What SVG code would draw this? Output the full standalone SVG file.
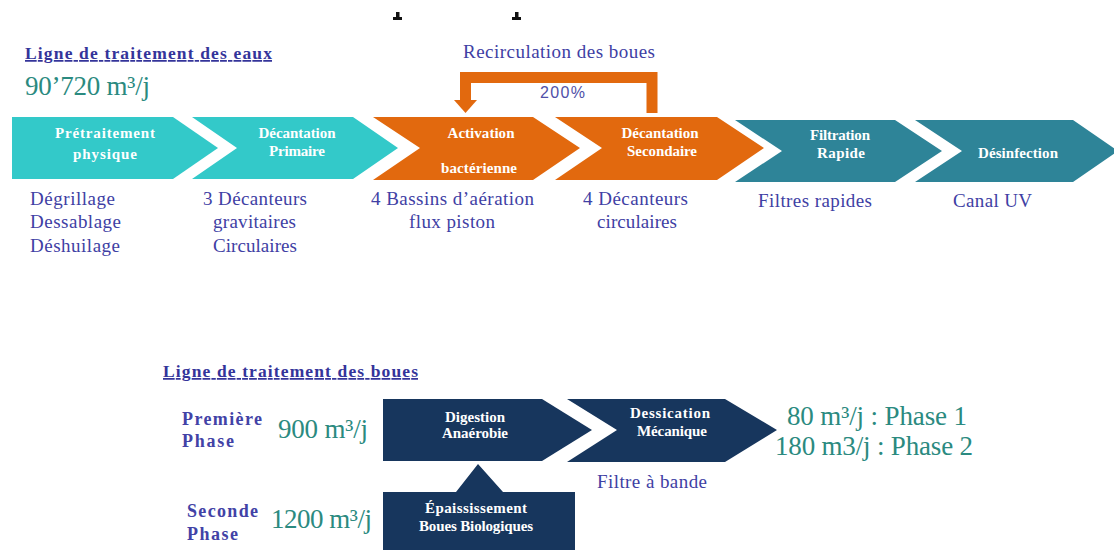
<svg xmlns="http://www.w3.org/2000/svg" width="1114" height="550" viewBox="0 0 1114 550">
  <style>
    .title { font-family: "Liberation Serif", serif; font-weight: bold; font-size: 17.5px; fill: #34349a; text-decoration: underline; }
    .flow { font-family: "Liberation Serif", serif; font-size: 27px; fill: #2b8a80; }
    .desc { font-family: "Liberation Serif", serif; font-size: 19px; fill: #4040a4; }
    .phase { font-family: "Liberation Serif", serif; font-weight: bold; font-size: 18px; fill: #4242a6; }
    .step { font-family: "Liberation Serif", serif; font-weight: bold; font-size: 15px; fill: #ffffff; text-anchor: middle; }
    .cyan { fill: #33c9c9; }
    .orange { fill: #e2690e; }
    .teal { fill: #2e8498; }
    .navy { fill: #17365d; }
  </style>

  <rect width="1114" height="550" fill="#ffffff"/>

  <!-- clipped letter remnants along the top edge -->
  <g fill="#111111">
    <rect x="396" y="12" width="3.5" height="6"/>
    <rect x="393" y="17" width="9" height="3"/>
    <rect x="515" y="12" width="3.5" height="6"/>
    <rect x="512" y="17" width="9" height="3"/>
  </g>

  <!-- water line header -->
  <text class="title" x="25" y="59" textLength="247" lengthAdjust="spacing">Ligne de traitement des eaux</text>
  <text class="flow" x="25" y="95" textLength="125" lengthAdjust="spacing">90’720 m³/j</text>

  <!-- sludge recirculation loop -->
  <g id="connectors">
    <path d="M652,113 V77.5 H465.5 V101" fill="none" stroke="#e2690e" stroke-width="11" stroke-linejoin="miter"/>
    <polygon points="454,100 477,100 465.5,113" fill="#e2690e"/>
  </g>
  <text class="desc" x="463" y="58" font-size="19" textLength="192" lengthAdjust="spacing" fill="#5050a8">Recirculation des boues</text>
  <text x="540" y="98" font-family="Liberation Sans, sans-serif" font-size="16" fill="#5050a8" textLength="45" lengthAdjust="spacing">200%</text>

  <!-- water treatment steps -->
  <g id="pretraitement">
    <path class="cyan" d="M12,117 H173 L218,148 L173,179 H12 Z"/>
    <text class="step" x="105" y="138" textLength="100" lengthAdjust="spacing">Prétraitement</text>
    <text class="step" x="105" y="159" textLength="64" lengthAdjust="spacing">physique</text>
    <text class="desc" x="30" y="205" textLength="85" lengthAdjust="spacing">Dégrillage</text>
    <text class="desc" x="30" y="228" textLength="91" lengthAdjust="spacing">Dessablage</text>
    <text class="desc" x="30" y="252" textLength="90" lengthAdjust="spacing">Déshuilage</text>
  </g>

  <g id="decantation-primaire">
    <path class="cyan" d="M192,117 H353 L398,148 L353,179 H192 L237,148 Z"/>
    <text class="step" x="297" y="138" textLength="77" lengthAdjust="spacing">Décantation</text>
    <text class="step" x="297" y="156" textLength="56" lengthAdjust="spacing">Primaire</text>
    <text class="desc" x="203" y="205" textLength="104" lengthAdjust="spacing">3 Décanteurs</text>
    <text class="desc" x="213" y="228" textLength="83" lengthAdjust="spacing">gravitaires</text>
    <text class="desc" x="213" y="252" textLength="84" lengthAdjust="spacing">Circulaires</text>
  </g>

  <g id="activation">
    <path class="orange" d="M373,117 H533 L580,148 L533,180 H373 L420,148 Z"/>
    <text class="step" x="481" y="138" textLength="67" lengthAdjust="spacing">Activation</text>
    <text class="step" x="479" y="173" textLength="76" lengthAdjust="spacing">bactérienne</text>
    <text class="desc" x="371" y="205" textLength="163" lengthAdjust="spacing">4 Bassins d’aération</text>
    <text class="desc" x="409" y="228" textLength="86" lengthAdjust="spacing">flux piston</text>
  </g>

  <g id="decantation-secondaire">
    <path class="orange" d="M555,117 H717 L764,148 L717,180 H555 L602,148 Z"/>
    <text class="step" x="660" y="138" textLength="77" lengthAdjust="spacing">Décantation</text>
    <text class="step" x="662" y="156" textLength="70" lengthAdjust="spacing">Secondaire</text>
    <text class="desc" x="583" y="205" textLength="105" lengthAdjust="spacing">4 Décanteurs</text>
    <text class="desc" x="597" y="228" textLength="80" lengthAdjust="spacing">circulaires</text>
  </g>

  <g id="filtration">
    <path class="teal" d="M735,120 H895 L942,151 L895,182 H735 L782,151 Z"/>
    <text class="step" x="840" y="140" textLength="60" lengthAdjust="spacing">Filtration</text>
    <text class="step" x="841" y="158" textLength="48" lengthAdjust="spacing">Rapide</text>
    <text class="desc" x="758" y="207" textLength="114" lengthAdjust="spacing">Filtres rapides</text>
  </g>

  <g id="desinfection">
    <path class="teal" d="M915,120 H1073 L1118,151 L1073,182 H915 L962,151 Z"/>
    <text class="step" x="1018" y="158" textLength="80" lengthAdjust="spacing">Désinfection</text>
    <text class="desc" x="953" y="207" textLength="79" lengthAdjust="spacing">Canal UV</text>
  </g>

  <!-- sludge line header -->
  <text class="title" x="163" y="377" font-size="17" textLength="255" lengthAdjust="spacing">Ligne de traitement des boues</text>

  <g id="phase-1">
    <text class="phase" x="182" y="425" textLength="80" lengthAdjust="spacing">Première</text>
    <text class="phase" x="182" y="447" textLength="52" lengthAdjust="spacing">Phase</text>
    <text class="flow" x="278" y="438" textLength="90" lengthAdjust="spacing">900 m³/j</text>
  </g>

  <g id="phase-2">
    <text class="phase" x="187" y="517" textLength="71" lengthAdjust="spacing">Seconde</text>
    <text class="phase" x="187" y="540" textLength="51" lengthAdjust="spacing">Phase</text>
    <text class="flow" x="271" y="528" textLength="101" lengthAdjust="spacing">1200 m³/j</text>
  </g>

  <g id="digestion">
    <path class="navy" d="M383,399 H542 L592,430 L542,461 H383 Z"/>
    <text class="step" x="475" y="422" font-size="14" textLength="60" lengthAdjust="spacing">Digestion</text>
    <text class="step" x="475" y="438" font-size="14" textLength="66" lengthAdjust="spacing">Anaérobie</text>
  </g>

  <g id="dessication">
    <path class="navy" d="M567,399 H725 L777,430 L725,462 H567 L617,430 Z"/>
    <text class="step" x="670" y="418" font-size="14" textLength="80" lengthAdjust="spacing">Dessication</text>
    <text class="step" x="672" y="436" font-size="14" textLength="70" lengthAdjust="spacing">Mécanique</text>
    <text class="desc" x="597" y="488" font-size="18" fill="#5050a8" textLength="110" lengthAdjust="spacing">Filtre à bande</text>
  </g>

  <g id="epaississement">
    <path class="navy" d="M383,492 H456 L478,464 L503,492 H575 V550 H383 Z"/>
    <text class="step" x="476" y="513" font-size="14" textLength="102" lengthAdjust="spacing">Épaississement</text>
    <text class="step" x="476" y="531" font-size="14" textLength="114" lengthAdjust="spacing">Boues Biologiques</text>
  </g>

  <g id="production">
    <text class="flow" x="787" y="425" textLength="180" lengthAdjust="spacing">80 m³/j : Phase 1</text>
    <text class="flow" x="775" y="455" textLength="198" lengthAdjust="spacing">180 m3/j : Phase 2</text>
  </g>
</svg>
